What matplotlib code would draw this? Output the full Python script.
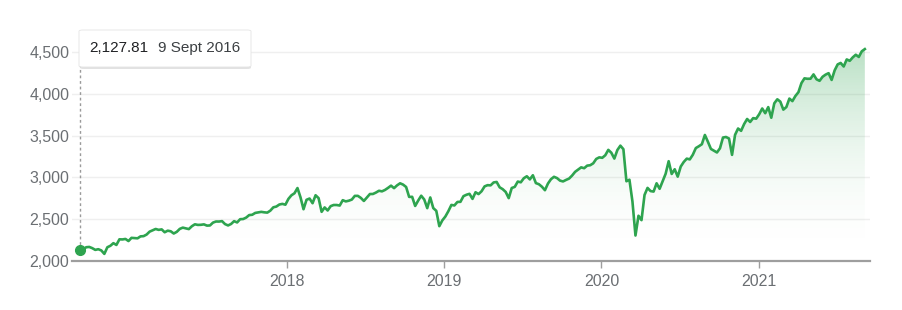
import numpy as np
import pandas as pd
import matplotlib
matplotlib.use("Agg")
import matplotlib.pyplot as plt
import matplotlib.dates as mdates
from matplotlib.patches import FancyBboxPatch
from matplotlib.ticker import FuncFormatter

plt.rcParams['font.family'] = ['Liberation Sans', 'DejaVu Sans']

# weekly closes, Friday 9 Sep 2016 .. Friday 3 Sep 2021
v2016 = [2127.81, 2139.16, 2164.69, 2168.27, 2153.74, 2132.98, 2141.16, 2126.41,
         2085.18, 2164.45, 2181.90, 2213.35, 2191.95, 2259.53, 2258.07, 2263.79, 2238.83]
v2017 = [2276.98, 2274.64, 2271.31, 2294.69, 2297.42, 2316.10, 2351.16, 2367.34,
         2383.12, 2372.60, 2378.25, 2343.98, 2362.72, 2355.54, 2328.95, 2348.69,
         2384.20, 2399.29, 2390.90, 2381.73, 2415.82, 2439.07, 2431.77, 2433.15,
         2438.30, 2423.41, 2425.18, 2459.27, 2472.54, 2472.10, 2476.83, 2441.32,
         2425.55, 2443.05, 2476.55, 2461.43, 2500.23, 2502.22, 2519.36, 2549.33,
         2553.17, 2575.21, 2581.07, 2587.84, 2582.30, 2578.85, 2602.42, 2642.22,
         2651.50, 2675.81, 2683.34, 2673.61]
v2018 = [2743.15, 2786.24, 2810.30, 2872.87, 2762.13, 2619.55, 2732.22, 2747.30,
         2691.25, 2786.57, 2752.01, 2588.26, 2640.87, 2604.47, 2656.30, 2670.14,
         2669.91, 2663.42, 2727.72, 2712.97, 2721.33, 2734.62, 2779.03, 2779.42,
         2754.88, 2718.37, 2759.82, 2801.31, 2801.83, 2818.82, 2840.35, 2833.28,
         2850.13, 2874.69, 2901.52, 2871.68, 2904.98, 2929.67, 2913.98, 2885.57,
         2767.13, 2767.78, 2658.69, 2723.06, 2781.01, 2736.27, 2632.56, 2760.17,
         2633.08, 2599.95, 2416.62, 2485.74]
v2019 = [2531.94, 2596.26, 2670.71, 2664.76, 2706.53, 2707.88, 2775.60, 2792.67,
         2803.69, 2743.07, 2822.48, 2800.71, 2834.40, 2892.74, 2907.41, 2905.03,
         2939.88, 2945.64, 2881.40, 2859.53, 2826.06, 2752.06, 2873.34, 2886.98,
         2950.46, 2941.76, 2990.41, 3013.77, 2976.61, 3025.86, 2932.05, 2918.65,
         2888.68, 2847.11, 2926.46, 2978.71, 3007.39, 2992.07, 2961.79, 2952.01,
         2970.27, 2986.20, 3022.55, 3066.91, 3093.08, 3120.46, 3110.29, 3140.98,
         3145.91, 3168.80, 3221.22, 3240.02]
v2020 = [3234.85, 3265.35, 3329.62, 3295.47, 3225.52, 3327.71, 3380.16, 3337.75,
         2954.22, 2972.37, 2711.02, 2304.92, 2541.47, 2488.65, 2789.82, 2874.56,
         2836.74, 2830.71, 2929.80, 2863.70, 2955.45, 3044.31, 3193.93, 3041.31,
         3097.74, 3009.05, 3130.01, 3185.04, 3224.73, 3215.63, 3271.12, 3351.28,
         3372.85, 3397.16, 3508.01, 3426.96, 3340.97, 3319.47, 3298.46, 3348.44,
         3477.14, 3483.81, 3465.39, 3269.96, 3509.44, 3585.15, 3557.54, 3638.35,
         3699.12, 3663.46, 3709.41, 3703.06, 3756.07]
v2021 = [3824.68, 3768.25, 3841.47, 3714.24, 3886.83, 3934.83, 3906.71, 3811.15,
         3841.94, 3943.34, 3913.10, 3974.54, 4019.87, 4128.80, 4185.47, 4180.17,
         4181.17, 4232.60, 4173.85, 4155.86, 4204.11, 4229.89, 4247.44, 4166.45,
         4280.70, 4352.34, 4369.55, 4327.16, 4411.79, 4395.26, 4436.52, 4468.00,
         4441.67, 4509.37, 4535.43]

values = np.array(v2016 + v2017 + v2018 + v2019 + v2020 + v2021)
dates = pd.date_range("2016-09-09", "2021-09-03", freq="W-FRI")

yticks = [2000, 2500, 3000, 3500, 4000, 4500]
xtick_years = [2018, 2019, 2020, 2021]
tip_value = "2,127.81"
tip_date = "9 Sept 2016"

green = '#2ea44f'
gray = '#6b6f73'

fig = plt.figure(figsize=(9.02, 3.10), dpi=100)
ax = fig.add_axes([72 / 902, 49 / 310, 798 / 902, (310 - 43.7 - 49) / 310])

x = mdates.date2num(dates)
ax.plot(dates, values, color=green, lw=1.9, zorder=3)

# gradient fill under the line
poly = ax.fill_between(dates, values, 2000, color='none', lw=0)
path = poly.get_paths()[0]
yy = np.linspace(2000, 4600, 300)
t = np.clip((yy - 2000) / 2550, 0, 1)
grad = np.zeros((300, 1, 4))
grad[..., 0] = 0.18
grad[..., 1] = 0.64
grad[..., 2] = 0.31
grad[:, 0, 3] = 0.34 * t ** 2
im = ax.imshow(grad, extent=[x[0], x[-1], 2000, 4600], aspect='auto',
               origin='lower', zorder=2, interpolation='bilinear')
im.set_clip_path(path, transform=ax.transData)

# start point and hover line
ax.plot(dates[0], values[0], 'o', color=green, ms=7, zorder=4)
ax.plot([dates[0], dates[0]], [values[0], 4600], color='#9a9a9a', lw=1,
        ls=(0, (2, 2)), zorder=2, clip_on=False)

ax.set_xlim(pd.Timestamp("2016-08-21"), pd.Timestamp("2021-09-15"))
ax.set_ylim(2000, 4600)

ax.set_yticks(yticks)
ax.yaxis.set_major_formatter(FuncFormatter(lambda v, p: f"{int(v):,}"))
ax.set_xticks([pd.Timestamp(f"{y}-01-01") for y in xtick_years])
ax.set_xticklabels([str(y) for y in xtick_years])

ax.grid(axis='y', color='#efefef', lw=1)
ax.set_axisbelow(True)
for s in ['top', 'right', 'left']:
    ax.spines[s].set_visible(False)
ax.spines['bottom'].set_color('#9e9e9e')
ax.spines['bottom'].set_linewidth(1.6)
ax.tick_params(axis='y', length=0, pad=2, labelsize=11.5, labelcolor=gray)
ax.tick_params(axis='x', length=5, width=1, color='#9e9e9e', pad=4,
               labelsize=11.5, labelcolor=gray)

# tooltip box
shadow = FancyBboxPatch((80 / 902, (310 - 69) / 310), 171 / 902, 36 / 310,
                        boxstyle="round,pad=0,rounding_size=0.004",
                        transform=fig.transFigure, fc='#d0d0d0', ec='none',
                        alpha=0.6, zorder=9)
box = FancyBboxPatch((79 / 902, (310 - 67) / 310), 172 / 902, 37 / 310,
                     boxstyle="round,pad=0,rounding_size=0.004",
                     transform=fig.transFigure, fc='white', ec='#e4e4e4',
                     lw=0.6, zorder=10)
fig.patches.append(shadow)
fig.patches.append(box)
fig.text(89 / 902, (310 - 48) / 310, tip_value, fontsize=11, color='#202124',
         va='center', ha='left', zorder=11)
fig.text(158 / 902, (310 - 48) / 310, tip_date, fontsize=11, color='#3c4043',
         va='center', ha='left', zorder=11)

fig.savefig("out.png", dpi=100)
